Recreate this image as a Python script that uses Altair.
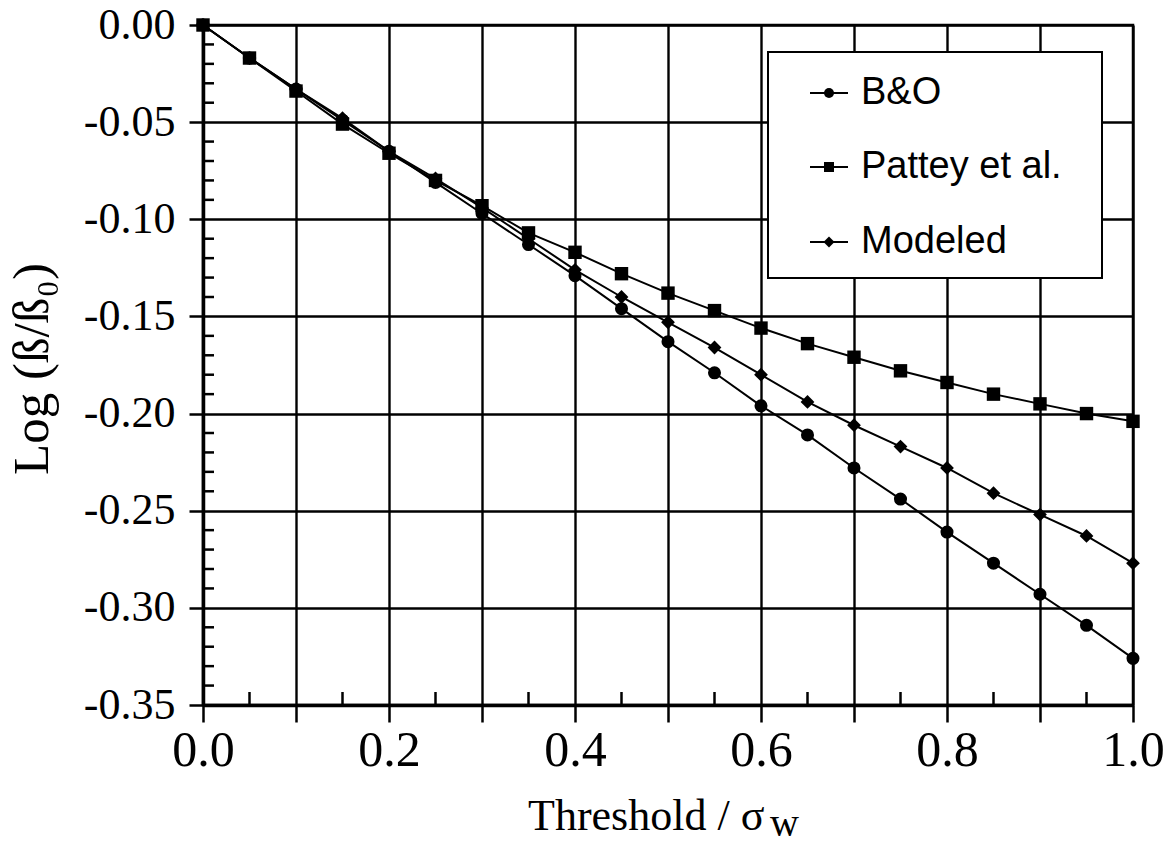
import altair as alt
import pandas as pd

# Threshold normalised by sigma_w
threshold = [0.00, 0.05, 0.10, 0.15, 0.20, 0.25, 0.30, 0.35, 0.40, 0.45, 0.50,
             0.55, 0.60, 0.65, 0.70, 0.75, 0.80, 0.85, 0.90, 0.95, 1.00]

# Log(beta / beta0) for each method
b_and_o = [0.000, -0.017, -0.033, -0.049, -0.065, -0.081, -0.097, -0.113, -0.129, -0.146, -0.163,
           -0.179, -0.196, -0.211, -0.228, -0.244, -0.261, -0.277, -0.293, -0.309, -0.326]
pattey = [0.000, -0.017, -0.034, -0.051, -0.066, -0.080, -0.093, -0.107, -0.117, -0.128, -0.138,
          -0.147, -0.156, -0.164, -0.171, -0.178, -0.184, -0.190, -0.195, -0.200, -0.204]
modeled = [0.000, -0.017, -0.033, -0.048, -0.065, -0.079, -0.094, -0.110, -0.126, -0.140, -0.153,
           -0.166, -0.180, -0.194, -0.206, -0.217, -0.228, -0.241, -0.252, -0.263, -0.277]

series_names = ["B&O", "Pattey et al.", "Modeled"]
series_shapes = ["circle", "square", "diamond"]
series_sizes = [170, 190, 210]

x_ticks = [0.0, 0.1, 0.2, 0.3, 0.4, 0.5, 0.6, 0.7, 0.8, 0.9, 1.0]
x_minor = [0.05, 0.15, 0.25, 0.35, 0.45, 0.55, 0.65, 0.75, 0.85, 0.95]
y_ticks = [0.00, -0.05, -0.10, -0.15, -0.20, -0.25, -0.30, -0.35]
y_minor = [round(-0.01 * i, 2) for i in range(1, 35) if i % 5 != 0]

W, H = 930, 680
SERIF = "Liberation Serif"
SANS = "Liberation Sans"

rows = []
for name, vals in zip(series_names, [b_and_o, pattey, modeled]):
    for t, v in zip(threshold, vals):
        rows.append({"threshold": t, "value": v, "series": name})
df = pd.DataFrame(rows)

x_scale = alt.Scale(domain=[0, 1], nice=False, zero=False)
y_scale = alt.Scale(domain=[-0.35, 0], nice=False, zero=False)

x_axis = alt.Axis(
    values=x_ticks, title=None, grid=True, gridColor="black", gridWidth=2.4, gridOpacity=1,
    domainColor="black", domainWidth=3.5, tickColor="black", tickWidth=2.5, tickSize=17,
    labelFont=SERIF, labelFontSize=50, labelColor="black", labelPadding=3,
    labelFlush=False, labelOverlap=False, labelBound=False,
    labelExpr="round(datum.value * 10) % 2 == 0 ? format(datum.value, '.1f') : ''",
)
y_axis = alt.Axis(
    values=y_ticks, title=None, grid=True, gridColor="black", gridWidth=2.4, gridOpacity=1,
    domainColor="black", domainWidth=3.5, tickColor="black", tickWidth=2.5, tickSize=14,
    labelFont=SERIF, labelFontSize=44, labelColor="black", labelPadding=14,
    labelFlush=False, labelOverlap=False, labelBound=False,
    labelExpr="(datum.value < -0.001 ? '-' : '') + format(abs(datum.value), '.2f')",
)

base = alt.Chart(df)

lines = base.mark_line(color="black", strokeWidth=2).encode(
    x=alt.X("threshold:Q", scale=x_scale, axis=x_axis),
    y=alt.Y("value:Q", scale=y_scale, axis=y_axis),
    detail="series:N",
)

points = base.mark_point(filled=True, color="black", opacity=1).encode(
    x=alt.X("threshold:Q", scale=x_scale),
    y=alt.Y("value:Q", scale=y_scale),
    shape=alt.Shape("series:N", scale=alt.Scale(domain=series_names, range=series_shapes), legend=None),
    size=alt.Size("series:N", scale=alt.Scale(domain=series_names, range=series_sizes), legend=None),
)

# inward minor ticks along the bottom and left axes
xminor = alt.Chart(pd.DataFrame({"t": x_minor})).mark_rule(color="black", strokeWidth=2.5).encode(
    x=alt.X("t:Q", scale=x_scale), y=alt.value(H), y2=alt.value(H - 13)
)
yminor = alt.Chart(pd.DataFrame({"v": y_minor})).mark_rule(color="black", strokeWidth=2.5).encode(
    y=alt.Y("v:Q", scale=y_scale), x=alt.value(0), x2=alt.value(11)
)

one = pd.DataFrame({"k": [0]})

# axis titles
x_title = alt.Chart(one).mark_text(
    text="Threshold / σ", font=SERIF, fontSize=44, align="left", baseline="alphabetic", color="black"
).encode(x=alt.value(325), y=alt.value(805))
x_sub = alt.Chart(one).mark_text(
    text="w", font=SERIF, fontSize=40, align="left", baseline="alphabetic", color="black"
).encode(x=alt.value(567), y=alt.value(811))
y_title = alt.Chart(one).mark_text(
    text="Log (ß/ß₀)", font=SERIF, fontSize=51, align="center", baseline="alphabetic",
    angle=270, color="black"
).encode(x=alt.value(-155), y=alt.value(344))

# legend box with line + symbol samples
legend_layers = [
    alt.Chart(one).mark_rect(fill="white", stroke="black", strokeWidth=2).encode(
        x=alt.value(565), x2=alt.value(899), y=alt.value(27), y2=alt.value(253)
    )
]
row_y = [68, 142, 217]
legend_sizes = [100, 100, 120]
for name, shape, ry, sz in zip(series_names, series_shapes, row_y, legend_sizes):
    legend_layers.append(
        alt.Chart(one).mark_rule(color="black", strokeWidth=2).encode(
            x=alt.value(607), x2=alt.value(645), y=alt.value(ry)
        )
    )
    legend_layers.append(
        alt.Chart(one).mark_point(shape=shape, filled=True, color="black", opacity=1, size=sz).encode(
            x=alt.value(626), y=alt.value(ry)
        )
    )
    legend_layers.append(
        alt.Chart(one).mark_text(
            text=name, font=SANS, fontSize=38, align="left", baseline="middle", color="black"
        ).encode(x=alt.value(658), y=alt.value(ry))
    )

chart = alt.layer(
    lines, points, xminor, yminor, x_title, x_sub, y_title, *legend_layers
).properties(
    width=W, height=H,
    autosize=alt.AutoSizeParams(type="none"),
    padding={"left": 203, "top": 25, "right": 37, "bottom": 140},
    background="white",
).configure_view(
    stroke="black", strokeWidth=2.5
)

chart.save("out.html", embed_options={"renderer": "svg", "actions": False})
